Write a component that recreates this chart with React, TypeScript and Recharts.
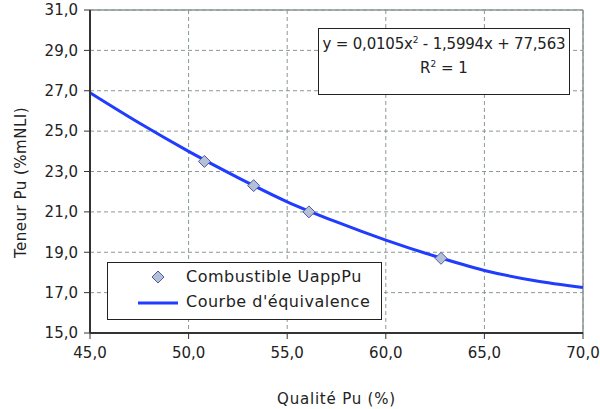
import {
  ComposedChart,
  Line,
  Scatter,
  XAxis,
  YAxis,
  CartesianGrid,
  ReferenceLine,
  Label,
} from "recharts";

// courbe d'équivalence
const qualiteCourbe = [45, 47.5, 50, 52.5, 55, 57.5, 60, 62.5, 65, 67.5, 70];
const teneurCourbe = [26.9, 25.4, 24.0, 22.7, 21.5, 20.5, 19.6, 18.8, 18.1, 17.6, 17.25];

// points combustible UappPu
const qualitePoints = [50.8, 53.3, 56.1, 62.8];
const teneurPoints = [23.5, 22.3, 21.0, 18.7];

const xTicks = [45, 50, 55, 60, 65, 70];
const yTicks = [15, 17, 19, 21, 23, 25, 27, 29, 31];

const FONT = "'DejaVu Sans', Verdana, sans-serif";
const fmt = (v: number) => v.toFixed(1).replace(".", ",");

const courbe = qualiteCourbe.map((q, i) => ({ q, t: teneurCourbe[i] }));
const points = qualitePoints.map((q, i) => ({ q, t: teneurPoints[i] }));

function Diamond(props: any) {
  const { cx, cy } = props;
  if (cx == null || cy == null) return null;
  const r = 6;
  return (
    <path
      d={`M${cx},${cy - r} L${cx + r},${cy} L${cx},${cy + r} L${cx - r},${cy} Z`}
      fill="#b4c0d4"
      stroke="#5058b0"
      strokeWidth={1}
    />
  );
}

function LegendBox() {
  return (
    <div
      style={{
        position: "absolute",
        left: 107,
        top: 262,
        width: 275,
        height: 58,
        border: "1.5px solid #222",
        background: "#fff",
        boxSizing: "border-box",
        fontFamily: FONT,
        fontSize: 16,
        letterSpacing: 0.5,
        color: "#222",
      }}
    >
      <svg width={80} height={56} style={{ position: "absolute", left: 0, top: 0 }}>
        <path d="M50,8 L56,14 L50,20 L44,14 Z" fill="#b4c0d4" stroke="#5058b0" />
        <line x1={30} y1={40} x2={70} y2={40} stroke="#1f3cff" strokeWidth={3} />
      </svg>
      <div style={{ position: "absolute", left: 78, top: 4, whiteSpace: "nowrap" }}>
        Combustible UappPu
      </div>
      <div style={{ position: "absolute", left: 78, top: 29, whiteSpace: "nowrap" }}>
        Courbe d'équivalence
      </div>
    </div>
  );
}

function YTitle(props: any) {
  const { viewBox } = props;
  const x = viewBox.x + 11;
  const y = viewBox.y + viewBox.height / 2 + 11;
  return (
    <text
      x={x}
      y={y}
      transform={`rotate(-90, ${x}, ${y})`}
      textAnchor="middle"
      dominantBaseline="central"
      fill="#222"
      fontSize={15}
      fontFamily={FONT}
      letterSpacing={0.5}
    >
      Teneur Pu (%mNLI)
    </text>
  );
}

export default function App() {
  return (
    <div style={{ position: "absolute", left: 0, top: 0, width: 600, height: 409, background: "#fff" }}>
      <ComposedChart
        width={600}
        height={409}
        data={courbe}
        margin={{ top: 10, right: 17, bottom: 36, left: 10 }}
      >
        <CartesianGrid stroke="#8a9896" strokeDasharray="4 3" />
        <XAxis
          dataKey="q"
          type="number"
          domain={[45, 70]}
          ticks={xTicks}
          tickFormatter={fmt}
          height={40}
          tickSize={6}
          tickMargin={8}
          axisLine={{ stroke: "#333", strokeWidth: 2 }}
          tickLine={{ stroke: "#333" }}
          tick={{ fill: "#222", fontSize: 15, fontFamily: FONT }}
          allowDataOverflow
        >
          <Label
            value="Qualité Pu (%)"
            position="insideBottom"
            offset={-31}
            style={{ fill: "#222", fontSize: 15, fontFamily: FONT, letterSpacing: 0.8 }}
          />
        </XAxis>
        <YAxis
          dataKey="t"
          type="number"
          domain={[15, 31]}
          ticks={yTicks}
          tickFormatter={fmt}
          width={80}
          tickSize={6}
          tickMargin={6}
          axisLine={{ stroke: "#333", strokeWidth: 2 }}
          tickLine={{ stroke: "#333" }}
          tick={{ fill: "#222", fontSize: 15, fontFamily: FONT }}
          allowDataOverflow
        >
          <Label content={<YTitle />} />
        </YAxis>
        <ReferenceLine y={31} stroke="#8a9896" strokeWidth={1.5} />
        <ReferenceLine x={70} stroke="#8a9896" strokeWidth={1.5} />
        <Line
          dataKey="t"
          type="monotone"
          stroke="#1f3cff"
          strokeWidth={3}
          dot={false}
          isAnimationActive={false}
          name="Courbe d'équivalence"
        />
        <Scatter
          data={points}
          dataKey="t"
          shape={<Diamond />}
          isAnimationActive={false}
          name="Combustible UappPu"
        />
      </ComposedChart>
      <LegendBox />
      <div
        style={{
          position: "absolute",
          left: 318,
          top: 28,
          width: 252,
          height: 67,
          border: "1.5px solid #222",
          background: "#fff",
          boxSizing: "border-box",
          fontFamily: FONT,
          fontSize: 15,
          color: "#222",
          textAlign: "center",
        }}
      >
        <div style={{ marginTop: 6, whiteSpace: "nowrap", letterSpacing: -0.2 }}>
          y = 0,0105x<sup style={{ fontSize: 9 }}>2</sup> - 1,5994x + 77,563
        </div>
        <div style={{ marginTop: 6 }}>
          R<sup style={{ fontSize: 9 }}>2</sup> = 1
        </div>
      </div>
    </div>
  );
}
